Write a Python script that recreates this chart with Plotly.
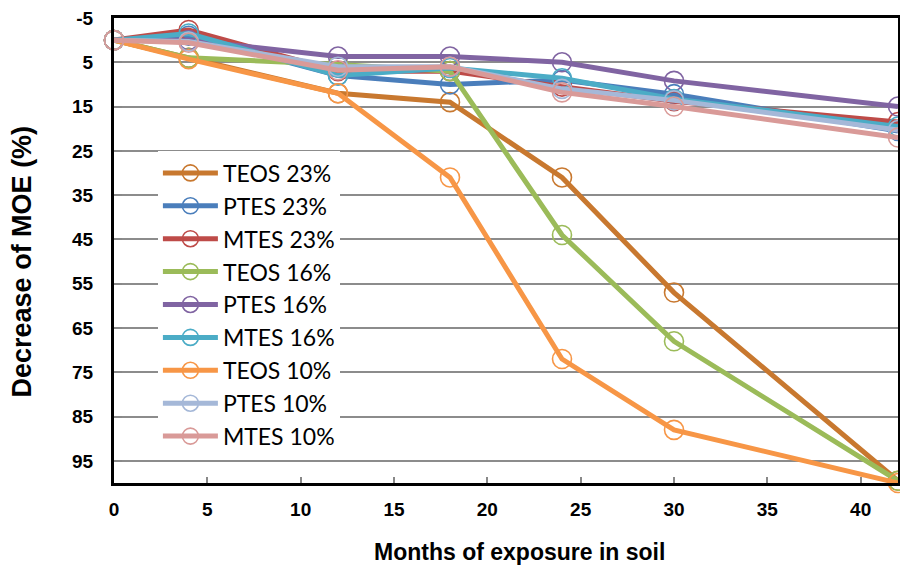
import plotly.graph_objects as go

months = [0, 4, 12, 18, 24, 30, 42]

series_names = ["TEOS 23%", "PTES 23%", "MTES 23%",
                "TEOS 16%", "PTES 16%", "MTES 16%",
                "TEOS 10%", "PTES 10%", "MTES 10%"]

teos_23 = [0, 4.0, 12.0, 14.0, 31.0, 57.0, 99.5]
ptes_23 = [0, -1.0, 8.0, 10.0, 9.0, 12.2, 20.5]
mtes_23 = [0, -2.3, 7.0, 7.0, 10.5, 13.8, 18.5]
teos_16 = [0, 4.0, 5.5, 7.0, 44.0, 68.0, 99.5]
ptes_16 = [0, 0.0, 3.7, 3.7, 5.0, 9.2, 15.0]
mtes_16 = [0, -1.5, 8.0, 6.3, 8.6, 13.3, 19.5]
teos_10 = [0, 4.3, 12.0, 31.0, 72.0, 88.0, 100.0]
ptes_10 = [0, 0.3, 6.0, 6.0, 11.0, 13.6, 20.3]
mtes_10 = [0, 0.6, 6.8, 6.0, 11.8, 15.0, 22.0]

series_values = [teos_23, ptes_23, mtes_23, teos_16, ptes_16, mtes_16,
                 teos_10, ptes_10, mtes_10]

colors = ["#C8782F", "#4A7EBB", "#BE4B48", "#9BBB59", "#8064A2",
          "#4BACC6", "#F79646", "#A5B8D8", "#D99A98"]

y_ticks = [-5, 5, 15, 25, 35, 45, 55, 65, 75, 85, 95]
x_ticks = [0, 5, 10, 15, 20, 25, 30, 35, 40]

x_title = "Months of exposure in soil"
y_title = "Decrease of MOE (%)"

fig = go.Figure()
for name, vals, col in zip(series_names, series_values, colors):
    fig.add_trace(go.Scatter(
        x=months, y=vals, name=name, mode="lines+markers",
        line=dict(color=col, width=5),
        marker=dict(symbol="circle-open", size=19, color=col,
                    line=dict(width=1.6, color=col)),
        cliponaxis=False,
    ))

tick_font = dict(family="Liberation Sans, Arial, sans-serif", size=19, color="black", weight="bold")

fig.update_layout(
    width=900, height=567,
    margin=dict(l=114, r=2, t=18, b=84),
    paper_bgcolor="white", plot_bgcolor="white",
    showlegend=True,
    legend=dict(x=0.056, y=0.713, xanchor="left", yanchor="top",
                bgcolor="white", borderwidth=0,
                font=dict(family="Lato, Carlito, sans-serif", size=23, color="black"),
                itemwidth=55, tracegroupgap=0),
    xaxis=dict(range=[0, 42], tickvals=x_ticks, ticktext=[str(v) for v in x_ticks],
               showgrid=False, zeroline=False, automargin=False,
               showline=True, linecolor="black", linewidth=3, mirror=True,
               ticks="inside", ticklen=6, tickcolor="#888888", tickwidth=1.5,
               ticklabelstandoff=7,
               tickfont=tick_font),
    yaxis=dict(range=[100, -5], tickvals=y_ticks, ticktext=[str(v) for v in y_ticks],
               showgrid=True, gridcolor="#8C8C8C", gridwidth=1.5, zeroline=False,
               automargin=False,
               showline=True, linecolor="black", linewidth=3, mirror=True,
               ticks="inside", ticklen=8, tickcolor="#888888", tickwidth=1.5,
               ticklabelstandoff=14,
               tickfont=tick_font),
    annotations=[
        dict(text=x_title, xref="paper", yref="paper", x=0.5166, y=-0.148,
             xanchor="center", yanchor="middle", showarrow=False,
             font=dict(family="Liberation Sans, Arial, sans-serif", size=23,
                       color="black", weight="bold")),
        dict(text=y_title, xref="paper", yref="paper", x=-0.117, y=0.477,
             xanchor="center", yanchor="middle", showarrow=False, textangle=-90,
             font=dict(family="Liberation Sans, Arial, sans-serif", size=27,
                       color="black", weight="bold")),
    ],
)

fig.write_html("out.html", config={"displayModeBar": False},
               post_script="document.body.style.margin='0';document.body.style.overflow='hidden';")
